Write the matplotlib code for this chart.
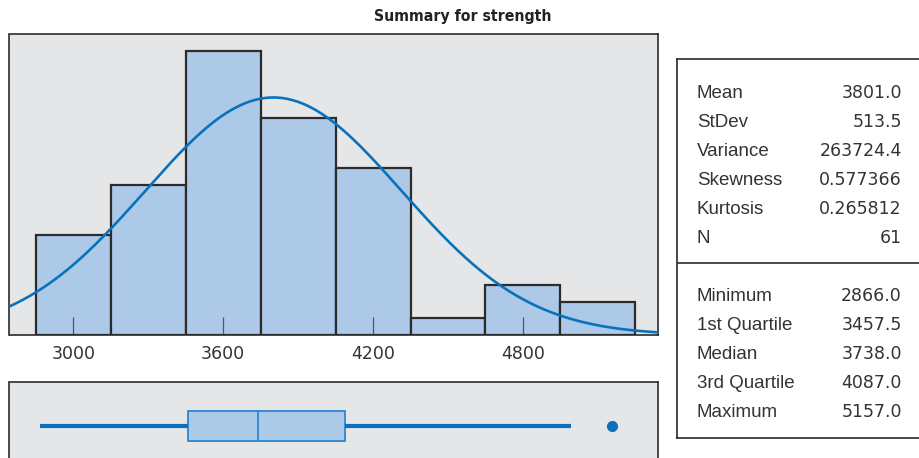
import numpy as np
import matplotlib
matplotlib.use("Agg")
import matplotlib.pyplot as plt

# ---- data ----
bin_edges = [2850, 3150, 3450, 3750, 4050, 4350, 4650, 4950, 5250]
counts = [6, 9, 17, 13, 10, 1, 3, 2]
tick_values = [3000, 3600, 4200, 4800]
tick_labels = ["3000", "3600", "4200", "4800"]

mean = 3801.0
stdev = 513.5
n_obs = 61

box_min = 2866.0
box_q1 = 3457.5
box_median = 3738.0
box_q3 = 4087.0
whisker_high = 4993.0
outliers = [5157.0]

stat_names_top = ["Mean", "StDev", "Variance", "Skewness", "Kurtosis", "N"]
stat_values_top = ["3801.0", "513.5", "263724.4", "0.577366", "0.265812", "61"]
stat_names_bottom = ["Minimum", "1st Quartile", "Median", "3rd Quartile", "Maximum"]
stat_values_bottom = ["2866.0", "3457.5", "3738.0", "4087.0", "5157.0"]

title = "Summary for strength"

# ---- style ----
BG = "#e5e6e8"
BAR = "#adc9e8"
EDGE = "#2b2b2b"
BLUE = "#0a72bd"
TXT = "#333333"
LABEL_FONT = ["Liberation Sans", "DejaVu Sans"]
NUM_FONT = ["DejaVu Sans"]

W, H = 920, 458
fig = plt.figure(figsize=(W / 100, H / 100), dpi=100)
fig.patch.set_facecolor("white")

def rect(x0, y0, x1, y1):
    # pixel coords (top-left origin) -> figure fraction
    return [x0 / W, (H - y1) / H, (x1 - x0) / W, (y1 - y0) / H]

xlim = (2744, 5340)

# ---- histogram ----
ax = fig.add_axes(rect(9.5, 34.3, 657.7, 335))
ax.set_facecolor(BG)
widths = np.diff(bin_edges)
ax.bar(bin_edges[:-1], counts, width=widths, align="edge", color=BAR,
       edgecolor=EDGE, linewidth=1.6, zorder=1)
xs = np.linspace(xlim[0], xlim[1], 400)
binw = bin_edges[1] - bin_edges[0]
pdf = n_obs * binw * np.exp(-0.5 * ((xs - mean) / stdev) ** 2) / (stdev * np.sqrt(2 * np.pi))
ax.plot(xs, pdf, color=BLUE, lw=1.9, zorder=3)
ax.set_xlim(*xlim)
ax.set_ylim(0, 18)
ax.set_yticks([])
ax.set_xticks(tick_values)
ax.set_xticklabels(tick_labels, fontfamily=NUM_FONT, fontsize=12.5, color=TXT)
ax.tick_params(axis="x", direction="in", length=13, width=0.9, color="#555555", pad=7)
for s in ax.spines.values():
    s.set_color(EDGE)
    s.set_linewidth(1.2)

fig.text(463 / W, 1 - 17 / H, title, ha="center", va="center",
         fontfamily=["DejaVu Sans"], fontstretch="condensed", fontweight="bold",
         fontsize=11.3, color="#222222")

# ---- boxplot ----
bx = fig.add_axes(rect(9.5, 382, 657.7, 470))
bx.set_facecolor(BG)
stats = [dict(med=box_median, q1=box_q1, q3=box_q3, whislo=box_min,
              whishi=whisker_high, fliers=outliers)]
bx.bxp(stats, positions=[0.5], widths=0.33, vert=False, showcaps=False,
       patch_artist=True,
       boxprops=dict(facecolor=BAR, edgecolor="#2a86d4", linewidth=1.3),
       medianprops=dict(color="#2a86d4", linewidth=1.3),
       whiskerprops=dict(color=BLUE, linewidth=3.0, solid_capstyle="butt"),
       flierprops=dict(marker="o", markerfacecolor=BLUE, markeredgecolor=BLUE,
                       markersize=7))
bx.set_xlim(*xlim)
bx.set_ylim(0, 1)
bx.set_xticks([])
bx.set_yticks([])
for s in bx.spines.values():
    s.set_color(EDGE)
    s.set_linewidth(1.2)

# ---- stats panel ----
px0, px1, py0, py1 = 677, 945, 59, 438
pa = fig.add_axes(rect(px0, py0, px1, py1))
pa.set_xlim(px0, px1)
pa.set_ylim(py1, py0)
pa.set_xticks([])
pa.set_yticks([])
pa.set_facecolor("white")
for s in pa.spines.values():
    s.set_color(EDGE)
    s.set_linewidth(1.2)
pa.axhline(263, color=EDGE, lw=1.2)

row_h = 29
for i, (nm, val) in enumerate(zip(stat_names_top, stat_values_top)):
    y = 98 + i * row_h
    pa.text(697, y, nm, ha="left", va="baseline", fontfamily=LABEL_FONT, fontsize=13.5, color=TXT)
    pa.text(902, y, val, ha="right", va="baseline", fontfamily=NUM_FONT, fontsize=12.5, color=TXT)
for i, (nm, val) in enumerate(zip(stat_names_bottom, stat_values_bottom)):
    y = 301 + i * row_h
    pa.text(697, y, nm, ha="left", va="baseline", fontfamily=LABEL_FONT, fontsize=13.5, color=TXT)
    pa.text(902, y, val, ha="right", va="baseline", fontfamily=NUM_FONT, fontsize=12.5, color=TXT)

fig.savefig("out.png", dpi=100, facecolor="white")
